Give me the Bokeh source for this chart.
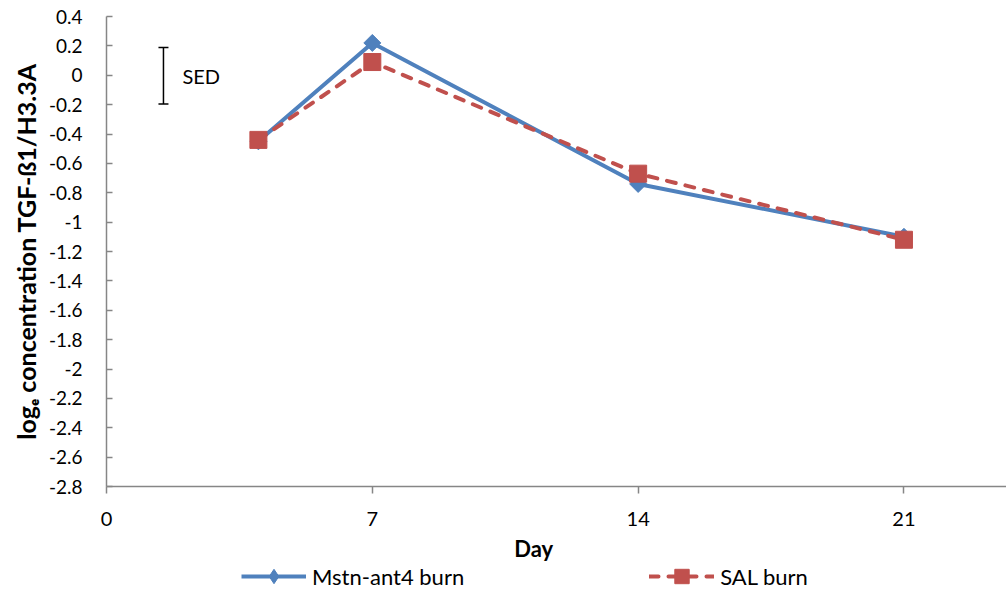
import math
from bokeh.plotting import figure
from bokeh.layouts import column
from bokeh.models import (Range1d, FixedTicker, Legend, LegendItem, Whisker, TeeHead,
                          ColumnDataSource, Label)
from bokeh.core.properties import value
from bokeh.embed import file_html
from bokeh.resources import INLINE

# ---- data ----
days = [4, 7, 14, 21]
mstn_ant4_burn = [-0.45, 0.22, -0.74, -1.10]
sal_burn = [-0.44, 0.09, -0.67, -1.12]

sed_day = [1.5]
sed_mid = [-0.003]
sed_value = [0.385]

x_ticks = [0, 7, 14, 21]
x_tick_labels = ["0", "7", "14", "21"]
y_ticks = [-2.8, -2.6, -2.4, -2.2, -2.0, -1.8, -1.6, -1.4, -1.2, -1.0, -0.8, -0.6,
           -0.4, -0.2, 0.0, 0.2, 0.4]
y_tick_labels = ["-2.8", "-2.6", "-2.4", "-2.2", "-2", "-1.8", "-1.6", "-1.4", "-1.2",
                 "-1", "-0.8", "-0.6", "-0.4", "-0.2", "0", "0.2", "0.4"]

FONT = "Lato"
BLUE = "#4F81BD"
RED = "#C0504D"
AXIS = "#868686"

W = 1006
P_H = 535
Q_H = 55

p = figure(width=W, height=P_H, output_backend="svg", toolbar_location=None,
           x_range=Range1d(0, 23.7), y_range=Range1d(-2.8, 0.4),
           min_border_left=106, min_border_right=0, min_border_top=16,
           min_border_bottom=P_H - 486)
p.outline_line_color = None
p.xgrid.visible = False
p.ygrid.visible = False
p.background_fill_color = "white"
p.border_fill_color = "white"

# axes
xa = p.xaxis[0]
xa.ticker = FixedTicker(ticks=x_ticks)
xa.major_label_overrides = dict(zip(x_ticks, x_tick_labels))
xa.major_tick_in = 0
xa.major_tick_out = 7
xa.minor_tick_line_color = None
xa.axis_line_color = AXIS
xa.axis_line_width = 1.5
xa.major_tick_line_color = AXIS
xa.major_tick_line_width = 1.5
xa.major_label_text_font = FONT
xa.major_label_text_font_size = "20px"
xa.major_label_text_color = "black"
xa.major_label_standoff = 18

ya = p.yaxis[0]
ya.ticker = FixedTicker(ticks=y_ticks)
ya.major_label_overrides = dict(zip(y_ticks, y_tick_labels))
ya.major_tick_in = 6
ya.major_tick_out = 0
ya.minor_tick_line_color = None
ya.axis_line_color = AXIS
ya.axis_line_width = 1.5
ya.major_tick_line_color = AXIS
ya.major_tick_line_width = 1.5
ya.major_label_text_font = FONT
ya.major_label_text_font_size = "19px"
ya.major_label_text_color = "black"
ya.major_label_standoff = 24
ya.axis_label = "logₑ concentration TGF-ß1/H3.3A"
ya.axis_label_text_font = FONT
ya.axis_label_text_font_style = "bold"
ya.axis_label_text_font_size = "25px"
ya.axis_label_text_color = "black"
ya.axis_label_standoff = 5

# series
line_mstn = dict(line_color=BLUE, line_width=4)
mark_mstn = dict(marker="square", angle=math.pi / 4, size=12, fill_color=BLUE,
                 line_color=BLUE)
line_sal = dict(line_color=RED, line_width=4, line_dash="9 10", line_cap="round")
mark_sal = dict(marker="square", size=17, fill_color=RED, line_color=RED)

p.line(days, mstn_ant4_burn, **line_mstn)
p.scatter(days, mstn_ant4_burn, **mark_mstn)
p.line(days, sal_burn, **line_sal)
p.scatter(days, sal_burn, **mark_sal)

# SED bar
sed_src = ColumnDataSource(dict(
    x=sed_day,
    lower=[m - s / 2 for m, s in zip(sed_mid, sed_value)],
    upper=[m + s / 2 for m, s in zip(sed_mid, sed_value)],
    mid=sed_mid,
    label=["SED"],
))
w = Whisker(source=sed_src, base="x", lower="lower", upper="upper", dimension="height",
            line_color="black", line_width=1.5,
            upper_head=TeeHead(size=10, line_color="black", line_width=1.5),
            lower_head=TeeHead(size=10, line_color="black", line_width=1.5))
p.add_layout(w)
p.text(x="x", y="mid", text="label", source=sed_src, x_offset=19,
       text_baseline="middle", text_align="left", text_font=value(FONT),
       text_font_size="20px", text_color="black")

# ---- bottom strip: x-axis title and legend ----
# The strip's y range lies well above the data, so the legend's proxy series
# (same data) stay out of view while the legend shows their styles.
Q_Y0 = 100
q = figure(width=W, height=Q_H, output_backend="svg", toolbar_location=None,
           x_range=p.x_range, y_range=Range1d(Q_Y0, Q_Y0 + Q_H),
           x_axis_location=None, y_axis_location=None,
           min_border_left=106, min_border_right=0, min_border_top=0,
           min_border_bottom=0)
q.outline_line_color = None
q.xgrid.visible = False
q.ygrid.visible = False
q.background_fill_color = "white"
q.border_fill_color = "white"

day_label = Label(x=11.25, y=Q_Y0 + Q_H - 13, text="Day", text_align="center",
                  text_baseline="middle", text_font=FONT, text_font_size="22px",
                  text_font_style="bold", text_color="black")
q.add_layout(day_label)

ql1 = q.line(days, mstn_ant4_burn, **line_mstn)
qm1 = q.scatter(days, mstn_ant4_burn, marker="diamond", size=12, fill_color=BLUE,
                line_color=BLUE)
ql2 = q.line(days, sal_burn, **line_sal)
qm2 = q.scatter(days, sal_burn, **mark_sal)

legend = Legend(items=[LegendItem(label="Mstn-ant4 burn", renderers=[ql1, qm1]),
                       LegendItem(label="SAL burn", renderers=[ql2, qm2])],
                orientation="horizontal", location=(135, -4),
                glyph_width=65, glyph_height=36, label_standoff=6, spacing=185,
                padding=0, margin=0, border_line_color=None, background_fill_alpha=0,
                label_text_font=FONT, label_text_font_size="22px",
                label_text_color="black")
q.add_layout(legend)

layout = column(p, q, spacing=0)
open("out.html", "w").write(file_html(layout, INLINE))
